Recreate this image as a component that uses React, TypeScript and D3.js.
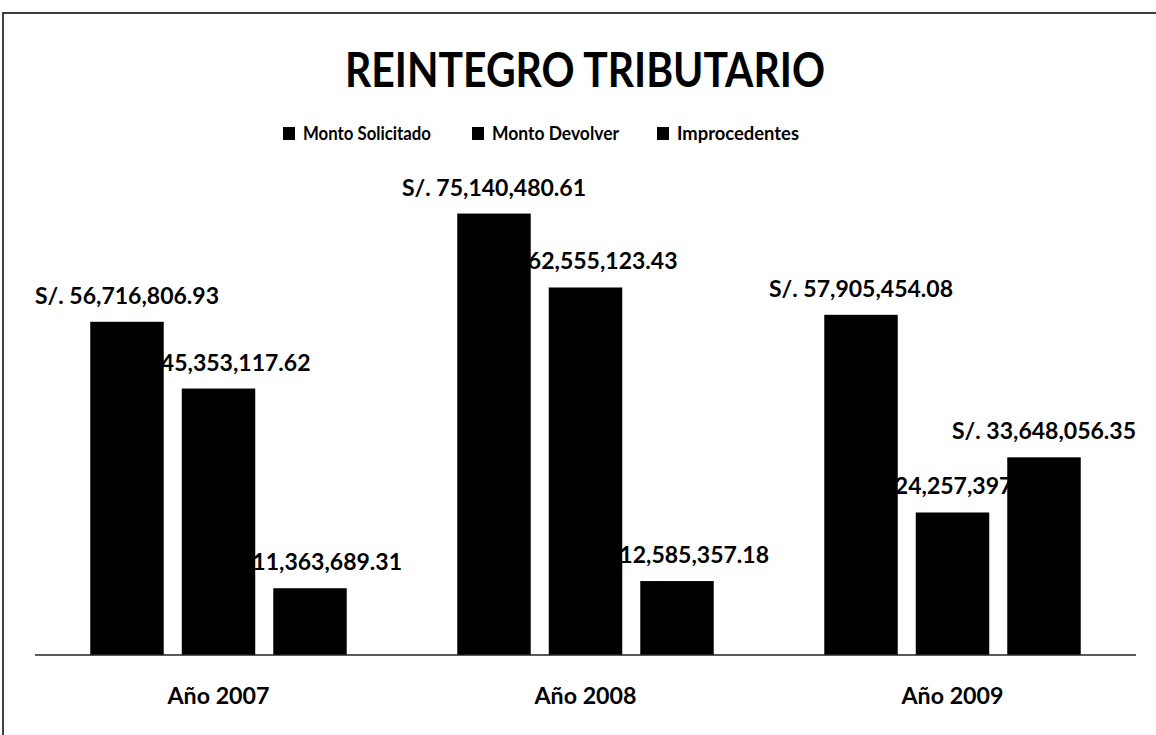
import React from "react";
import * as d3 from "d3";

const years = ["Año 2007", "Año 2008", "Año 2009"];
const seriesNames = ["Monto Solicitado", "Monto Devolver", "Improcedentes"];
const montoSolicitado = [56716806.93, 75140480.61, 57905454.08];
const montoDevolver = [45353117.62, 62555123.43, 24257397.73];
const improcedentes = [11363689.31, 12585357.18, 33648056.35];
const title = "REINTEGRO TRIBUTARIO";

const W = 1156;
const H = 735;
const FONT = "Lato, 'Open Sans', sans-serif";

export default function App() {
  const seriesValues = [montoSolicitado, montoDevolver, improcedentes];
  const x0 = d3.scaleBand<string>().domain(years).range([35, 1136]).padding(0);
  const x1 = d3
    .scaleBand<string>()
    .domain(seriesNames)
    .range([0, x0.bandwidth()])
    .paddingInner(0.197)
    .paddingOuter(0.604);
  const y = d3.scaleLinear().domain([0, 80000000]).range([655, 185]);
  const fmt = d3.format(",.2f");

  const cells = years.flatMap((yr, i) =>
    seriesNames.map((s, j) => ({
      yr,
      s,
      v: seriesValues[j][i],
      x: (x0(yr) ?? 0) + (x1(s) ?? 0),
    }))
  );

  const legendX = [283, 472, 657];
  const legendLen = [128, 127, 122];

  return (
    <div style={{ position: "fixed", left: 0, top: 0 }}>
      <svg width={W} height={H} style={{ display: "block", background: "#fff" }}>
        <rect x={0} y={0} width={W} height={H} fill="#fff" />
        <rect x={3} y={13} width={W + 20} height={H + 20} fill="none" stroke="#111" strokeWidth={1.6} />
        <text
          x={585}
          y={87}
          textAnchor="middle"
          fontFamily={FONT}
          fontWeight="bold"
          fontSize={48}
          textLength={480}
          lengthAdjust="spacingAndGlyphs"
          fill="#000"
        >
          {title}
        </text>
        {seriesNames.map((s, j) => (
          <g key={s}>
            <rect x={legendX[j]} y={127} width={12} height={13} fill="#000" />
            <text
              x={legendX[j] + 20}
              y={140}
              fontFamily={FONT}
              fontWeight="bold"
              fontSize={19}
              textLength={legendLen[j]}
              lengthAdjust="spacingAndGlyphs"
              fill="#000"
            >
              {s}
            </text>
          </g>
        ))}
        {cells.map((c) => (
          <text
            key={"l" + c.yr + c.s}
            x={c.x + x1.bandwidth() / 2}
            y={y(c.v) - 18}
            textAnchor="middle"
            fontFamily={FONT}
            fontWeight="bold"
            fontSize={23}
            fill="#000"
          >
            {"S/. " + fmt(c.v)}
          </text>
        ))}
        {cells.map((c) => (
          <rect
            key={"b" + c.yr + c.s}
            x={c.x}
            y={y(c.v)}
            width={x1.bandwidth()}
            height={y(0) - y(c.v)}
            fill="#000"
          />
        ))}
        <line x1={35} x2={1136} y1={y(0)} y2={y(0)} stroke="#222" strokeWidth={1.6} />
        {years.map((yr) => (
          <text
            key={yr}
            x={(x0(yr) ?? 0) + x0.bandwidth() / 2}
            y={704}
            textAnchor="middle"
            fontFamily={FONT}
            fontWeight="bold"
            fontSize={22}
            textLength={102}
            lengthAdjust="spacingAndGlyphs"
            fill="#000"
          >
            {yr}
          </text>
        ))}
      </svg>
    </div>
  );
}
